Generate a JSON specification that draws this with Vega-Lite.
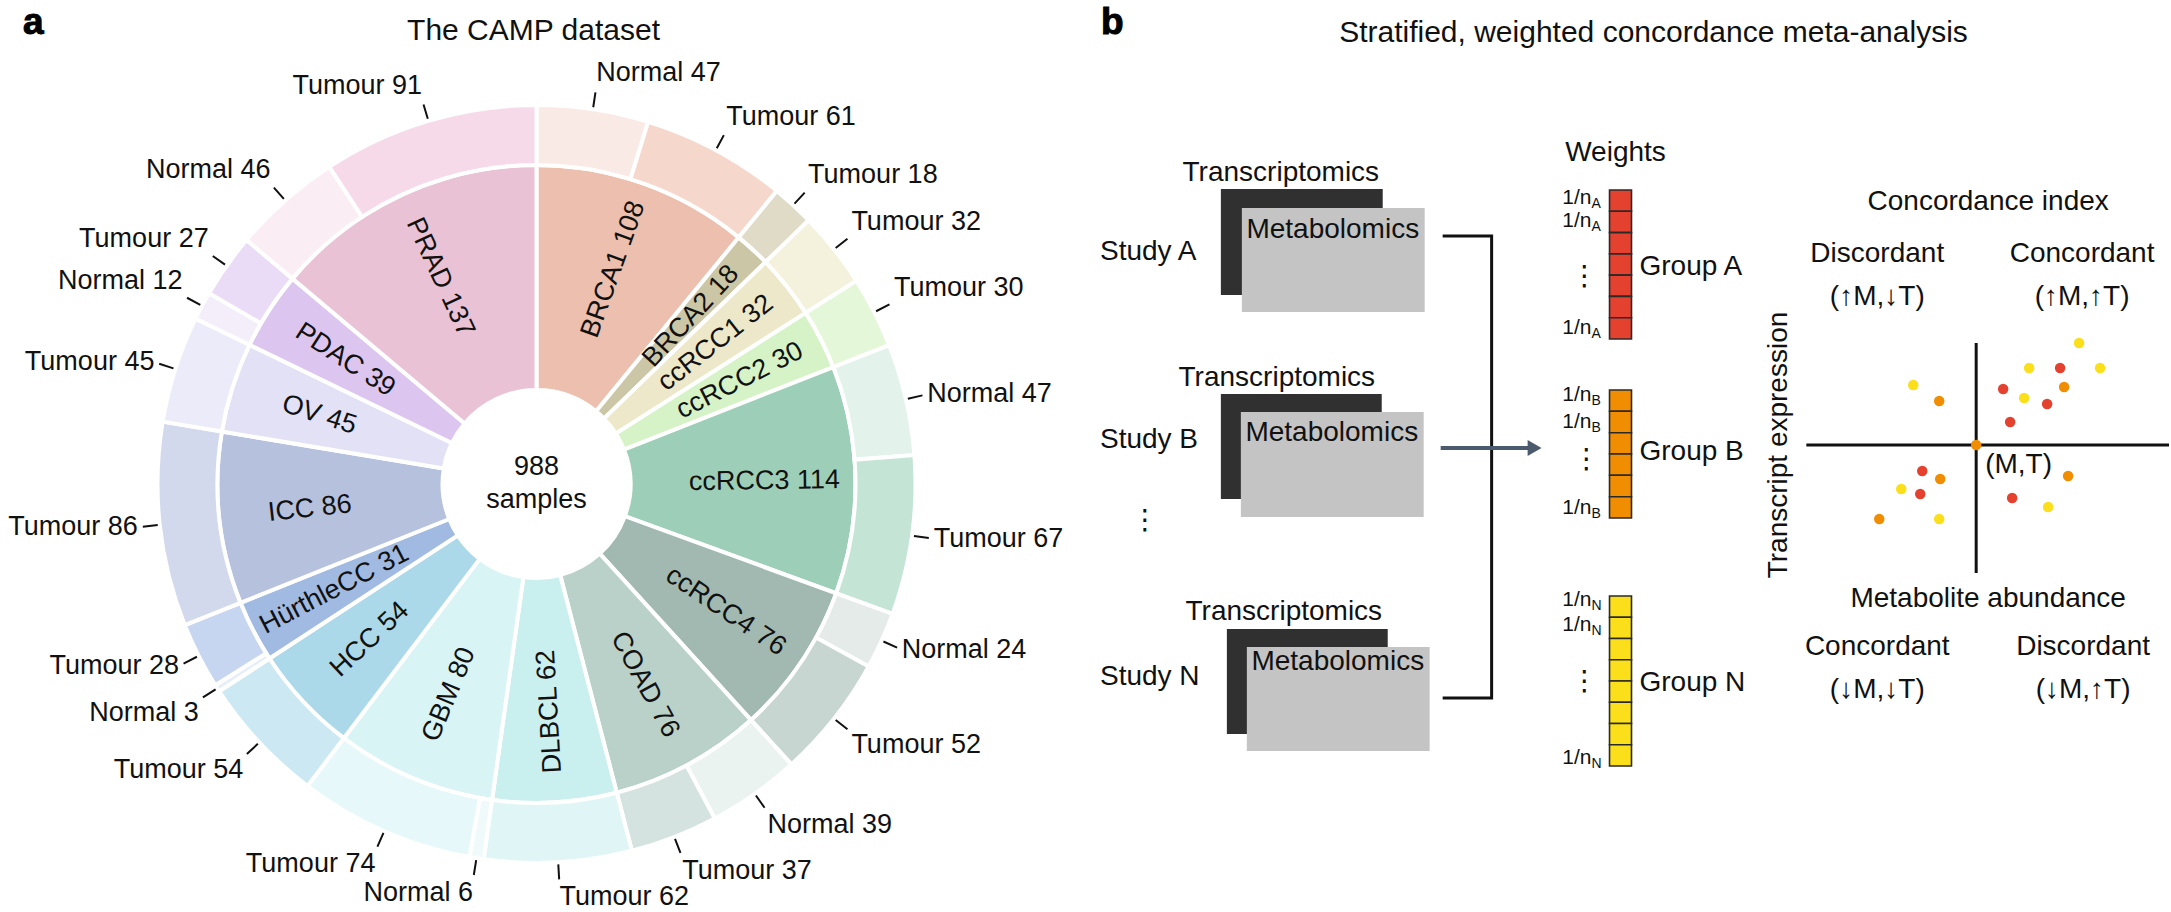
{
"$schema": "https://vega.github.io/schema/vega-lite/v6.json",
"width": 2171, "height": 912,
"autosize": {"type": "fit", "contains": "padding"},
"padding": 0,
"background": "white",
"config": {"view": {"stroke": null}, "font": "Liberation Sans", "text": {"color": "#111111", "font": "Liberation Sans"}},
"datasets": {
 "inner": [
  {"i": 1, "seg": "BRCA1", "n": 108, "label": "BRCA1 108"},
  {"i": 2, "seg": "BRCA2", "n": 18, "label": "BRCA2 18"},
  {"i": 3, "seg": "ccRCC1", "n": 32, "label": "ccRCC1 32"},
  {"i": 4, "seg": "ccRCC2", "n": 30, "label": "ccRCC2 30"},
  {"i": 5, "seg": "ccRCC3", "n": 114, "label": "ccRCC3 114"},
  {"i": 6, "seg": "ccRCC4", "n": 76, "label": "ccRCC4 76"},
  {"i": 7, "seg": "COAD", "n": 76, "label": "COAD 76"},
  {"i": 8, "seg": "DLBCL", "n": 62, "label": "DLBCL 62"},
  {"i": 9, "seg": "GBM", "n": 80, "label": "GBM 80"},
  {"i": 10, "seg": "HCC", "n": 54, "label": "HCC 54"},
  {"i": 11, "seg": "HürthleCC", "n": 31, "label": "HürthleCC 31"},
  {"i": 12, "seg": "ICC", "n": 86, "label": "ICC 86"},
  {"i": 13, "seg": "OV", "n": 45, "label": "OV 45"},
  {"i": 14, "seg": "PDAC", "n": 39, "label": "PDAC 39"},
  {"i": 15, "seg": "PRAD", "n": 137, "label": "PRAD 137"}
 ],
 "outer": [
  {"i": 1, "seg": "BRCA1 Normal", "n": 47, "label": "Normal 47"},
  {"i": 2, "seg": "BRCA1 Tumour", "n": 61, "label": "Tumour 61"},
  {"i": 3, "seg": "BRCA2 Tumour", "n": 18, "label": "Tumour 18"},
  {"i": 4, "seg": "ccRCC1 Tumour", "n": 32, "label": "Tumour 32"},
  {"i": 5, "seg": "ccRCC2 Tumour", "n": 30, "label": "Tumour 30"},
  {"i": 6, "seg": "ccRCC3 Normal", "n": 47, "label": "Normal 47"},
  {"i": 7, "seg": "ccRCC3 Tumour", "n": 67, "label": "Tumour 67"},
  {"i": 8, "seg": "ccRCC4 Normal", "n": 24, "label": "Normal 24"},
  {"i": 9, "seg": "ccRCC4 Tumour", "n": 52, "label": "Tumour 52"},
  {"i": 10, "seg": "COAD Normal", "n": 39, "label": "Normal 39"},
  {"i": 11, "seg": "COAD Tumour", "n": 37, "label": "Tumour 37"},
  {"i": 12, "seg": "DLBCL Tumour", "n": 62, "label": "Tumour 62"},
  {"i": 13, "seg": "GBM Normal", "n": 6, "label": "Normal 6"},
  {"i": 14, "seg": "GBM Tumour", "n": 74, "label": "Tumour 74"},
  {"i": 15, "seg": "HCC Tumour", "n": 54, "label": "Tumour 54"},
  {"i": 16, "seg": "HürthleCC Normal", "n": 3, "label": "Normal 3"},
  {"i": 17, "seg": "HürthleCC Tumour", "n": 28, "label": "Tumour 28"},
  {"i": 18, "seg": "ICC Tumour", "n": 86, "label": "Tumour 86"},
  {"i": 19, "seg": "OV Tumour", "n": 45, "label": "Tumour 45"},
  {"i": 20, "seg": "PDAC Normal", "n": 12, "label": "Normal 12"},
  {"i": 21, "seg": "PDAC Tumour", "n": 27, "label": "Tumour 27"},
  {"i": 22, "seg": "PRAD Normal", "n": 46, "label": "Normal 46"},
  {"i": 23, "seg": "PRAD Tumour", "n": 91, "label": "Tumour 91"}
 ],
 "darkbox": [{"x": 1222, "x2": 1384, "y": 189, "y2": 295}, {"x": 1222, "x2": 1383, "y": 394, "y2": 499}, {"x": 1228, "x2": 1389, "y": 629, "y2": 734}],
 "greybox": [{"x": 1243, "x2": 1426, "y": 208, "y2": 312}, {"x": 1242, "x2": 1425, "y": 412, "y2": 517}, {"x": 1248, "x2": 1431, "y": 647, "y2": 751}],
 "connector": [{"k": 1, "x": 1444, "y": 236}, {"k": 2, "x": 1493, "y": 236}, {"k": 3, "x": 1493, "y": 698}, {"k": 4, "x": 1444, "y": 698}],
 "axes": [{"x": 1978, "x2": 1978, "y": 343, "y2": 573}, {"x": 1808, "x2": 2171, "y": 445, "y2": 445}],
 "arrow": [{"x": 1442, "x2": 1530, "y": 448, "y2": 448}],
 "arrowhead": [{"x": 1536, "y": 448}],
 "cells": [
  {"g": "A", "x": 1611, "x2": 1633, "y": 190, "y2": 211.3},
  {"g": "A", "x": 1611, "x2": 1633, "y": 211.3, "y2": 232.6},
  {"g": "A", "x": 1611, "x2": 1633, "y": 232.6, "y2": 253.9},
  {"g": "A", "x": 1611, "x2": 1633, "y": 253.9, "y2": 275.1},
  {"g": "A", "x": 1611, "x2": 1633, "y": 275.1, "y2": 296.4},
  {"g": "A", "x": 1611, "x2": 1633, "y": 296.4, "y2": 317.7},
  {"g": "A", "x": 1611, "x2": 1633, "y": 317.7, "y2": 339},
  {"g": "B", "x": 1611, "x2": 1633, "y": 390, "y2": 411.3},
  {"g": "B", "x": 1611, "x2": 1633, "y": 411.3, "y2": 432.7},
  {"g": "B", "x": 1611, "x2": 1633, "y": 432.7, "y2": 454},
  {"g": "B", "x": 1611, "x2": 1633, "y": 454, "y2": 475.3},
  {"g": "B", "x": 1611, "x2": 1633, "y": 475.3, "y2": 496.7},
  {"g": "B", "x": 1611, "x2": 1633, "y": 496.7, "y2": 518},
  {"g": "N", "x": 1611, "x2": 1633, "y": 596, "y2": 617.3},
  {"g": "N", "x": 1611, "x2": 1633, "y": 617.3, "y2": 638.5},
  {"g": "N", "x": 1611, "x2": 1633, "y": 638.5, "y2": 659.8},
  {"g": "N", "x": 1611, "x2": 1633, "y": 659.8, "y2": 681},
  {"g": "N", "x": 1611, "x2": 1633, "y": 681, "y2": 702.3},
  {"g": "N", "x": 1611, "x2": 1633, "y": 702.3, "y2": 723.5},
  {"g": "N", "x": 1611, "x2": 1633, "y": 723.5, "y2": 744.8},
  {"g": "N", "x": 1611, "x2": 1633, "y": 744.8, "y2": 766}
 ],
 "dots": [
  {"x": 1915, "y": 385, "g": "N"}, {"x": 1941, "y": 401, "g": "B"},
  {"x": 2081, "y": 343, "g": "N"}, {"x": 2031, "y": 368, "g": "N"},
  {"x": 2062, "y": 368, "g": "A"}, {"x": 2102, "y": 368, "g": "N"},
  {"x": 2005, "y": 389, "g": "A"}, {"x": 2066, "y": 387, "g": "B"},
  {"x": 2026, "y": 398, "g": "N"}, {"x": 2049, "y": 404, "g": "A"},
  {"x": 2012, "y": 422, "g": "A"}, {"x": 1978, "y": 445, "g": "B"},
  {"x": 1924, "y": 471, "g": "A"}, {"x": 1942, "y": 479, "g": "B"},
  {"x": 1903, "y": 489, "g": "N"}, {"x": 1922, "y": 494, "g": "A"},
  {"x": 1881, "y": 519, "g": "B"}, {"x": 1941, "y": 519, "g": "N"},
  {"x": 2070, "y": 476, "g": "B"}, {"x": 2014, "y": 498, "g": "A"},
  {"x": 2050, "y": 507, "g": "N"}
 ],
 "wlabels": [
  {"x": 1593, "y": 198, "sub": "A"}, {"x": 1593, "y": 221, "sub": "A"}, {"x": 1593, "y": 328, "sub": "A"},
  {"x": 1593, "y": 395, "sub": "B"}, {"x": 1593, "y": 422, "sub": "B"}, {"x": 1593, "y": 508, "sub": "B"},
  {"x": 1593, "y": 600, "sub": "N"}, {"x": 1593, "y": 625, "sub": "N"}, {"x": 1593, "y": 758, "sub": "N"}
 ],
 "atext": [{"x": 537, "y": 467, "t": "988"}, {"x": 537, "y": 500, "t": "samples"}],
 "ctext": [
  {"x": 1282, "y": 173, "t": "Transcriptomics"}, {"x": 1278, "y": 378, "t": "Transcriptomics"}, {"x": 1285, "y": 612, "t": "Transcriptomics"},
  {"x": 1334, "y": 230, "t": "Metabolomics"}, {"x": 1333, "y": 433, "t": "Metabolomics"}, {"x": 1339, "y": 662, "t": "Metabolomics"},
  {"x": 1617, "y": 153, "t": "Weights"},
  {"x": 1990, "y": 202, "t": "Concordance index"},
  {"x": 1879, "y": 254, "t": "Discordant"}, {"x": 1879, "y": 297, "t": "(↑M,↓T)"},
  {"x": 2084, "y": 254, "t": "Concordant"}, {"x": 2084, "y": 297, "t": "(↑M,↑T)"},
  {"x": 1990, "y": 599, "t": "Metabolite abundance"},
  {"x": 1879, "y": 647, "t": "Concordant"}, {"x": 1879, "y": 690, "t": "(↓M,↓T)"},
  {"x": 2085, "y": 647, "t": "Discordant"}, {"x": 2085, "y": 690, "t": "(↓M,↑T)"}
 ],
 "ltext": [
  {"x": 1101, "y": 252, "t": "Study A"}, {"x": 1101, "y": 440, "t": "Study B"}, {"x": 1101, "y": 677, "t": "Study N"},
  {"x": 1641, "y": 267, "t": "Group A"}, {"x": 1641, "y": 452, "t": "Group B"}, {"x": 1641, "y": 683, "t": "Group N"},
  {"x": 1987, "y": 465, "t": "(M,T)"}
 ],
 "titles": [{"x": 534, "y": 31, "t": "The CAMP dataset"}, {"x": 1655, "y": 33, "t": "Stratified, weighted concordance meta-analysis"}],
 "letters": [{"x": 23, "y": 34, "t": "a"}, {"x": 1102, "y": 34, "t": "b"}],
 "vdots": [{"x": 1146, "y": 521}, {"x": 1586, "y": 277}, {"x": 1588, "y": 460}, {"x": 1586, "y": 682}],
 "rottext": [{"x": 1781, "y": 445, "t": "Transcript expression"}]
},
"layer": [
 {
  "data": {"name": "inner"},
  "mark": {"type": "arc", "innerRadius": 94, "outerRadius": 319, "stroke": "white", "strokeWidth": 4},
  "encoding": {
   "x": {"datum": 537, "type": "quantitative", "scale": {"domain": [0, 2171], "nice": false, "zero": false}, "axis": null},
   "y": {"datum": 484, "type": "quantitative", "scale": {"domain": [0, 912], "nice": false, "zero": false, "reverse": true}, "axis": null},
   "theta": {"field": "n", "type": "quantitative", "stack": true, "scale": {"domain": [0, 988], "range": [0, 6.283185307179586]}},
   "order": {"field": "i", "type": "quantitative"},
   "color": {"field": "seg", "type": "nominal", "legend": null, "scale": {
     "domain": ["BRCA1","BRCA2","ccRCC1","ccRCC2","ccRCC3","ccRCC4","COAD","DLBCL","GBM","HCC","HürthleCC","ICC","OV","PDAC","PRAD",
      "BRCA1 Normal","BRCA1 Tumour","BRCA2 Tumour","ccRCC1 Tumour","ccRCC2 Tumour","ccRCC3 Normal","ccRCC3 Tumour","ccRCC4 Normal","ccRCC4 Tumour","COAD Normal","COAD Tumour","DLBCL Tumour","GBM Normal","GBM Tumour","HCC Tumour","HürthleCC Normal","HürthleCC Tumour","ICC Tumour","OV Tumour","PDAC Normal","PDAC Tumour","PRAD Normal","PRAD Tumour"],
     "range": ["#ECBFAE","#CBC6A6","#EDE8C9","#D5F3C6","#9DCFB8","#A2B9B2","#B9D1C9","#C9EFEF","#D8F4F5","#ABD9E9","#A1BAE2","#B6C1DD","#E2E1F5","#DCC6EF","#E9C3D5",
      "#FAEAE5","#F6D7CC","#DFDBC7","#F4F2DD","#E4F8D9","#E3F3EB","#C4E5D5","#E4EBE8","#C8D6D1","#EAF3F0","#D4E3DF","#E0F6F6","#F0FAFB","#E6F8F9","#CCE9F3","#E6EEF9","#C6D5F0","#D3D9EC","#ECEBF9","#F4EEFB","#EADBF6","#FBEDF4","#F7DAE9"]}}
  }
 },
 {
  "data": {"name": "outer"},
  "mark": {"type": "arc", "innerRadius": 319, "outerRadius": 379, "stroke": "white", "strokeWidth": 4},
  "encoding": {
   "x": {"datum": 537, "type": "quantitative", "scale": {"domain": [0, 2171], "nice": false, "zero": false}, "axis": null},
   "y": {"datum": 484, "type": "quantitative", "scale": {"domain": [0, 912], "nice": false, "zero": false, "reverse": true}, "axis": null},
   "theta": {"field": "n", "type": "quantitative", "stack": true, "scale": {"domain": [0, 988], "range": [0, 6.283185307179586]}},
   "order": {"field": "i", "type": "quantitative"},
   "color": {"field": "seg", "type": "nominal", "legend": null, "scale": {
     "domain": ["BRCA1","BRCA2","ccRCC1","ccRCC2","ccRCC3","ccRCC4","COAD","DLBCL","GBM","HCC","HürthleCC","ICC","OV","PDAC","PRAD",
      "BRCA1 Normal","BRCA1 Tumour","BRCA2 Tumour","ccRCC1 Tumour","ccRCC2 Tumour","ccRCC3 Normal","ccRCC3 Tumour","ccRCC4 Normal","ccRCC4 Tumour","COAD Normal","COAD Tumour","DLBCL Tumour","GBM Normal","GBM Tumour","HCC Tumour","HürthleCC Normal","HürthleCC Tumour","ICC Tumour","OV Tumour","PDAC Normal","PDAC Tumour","PRAD Normal","PRAD Tumour"],
     "range": ["#ECBFAE","#CBC6A6","#EDE8C9","#D5F3C6","#9DCFB8","#A2B9B2","#B9D1C9","#C9EFEF","#D8F4F5","#ABD9E9","#A1BAE2","#B6C1DD","#E2E1F5","#DCC6EF","#E9C3D5",
      "#FAEAE5","#F6D7CC","#DFDBC7","#F4F2DD","#E4F8D9","#E3F3EB","#C4E5D5","#E4EBE8","#C8D6D1","#EAF3F0","#D4E3DF","#E0F6F6","#F0FAFB","#E6F8F9","#CCE9F3","#E6EEF9","#C6D5F0","#D3D9EC","#ECEBF9","#F4EEFB","#EADBF6","#FBEDF4","#F7DAE9"]}}
  }
 },
 {
  "data": {"name": "inner"},
  "transform": [
   {"stack": "n", "groupby": [], "sort": [{"field": "i", "order": "ascending"}], "as": ["s0", "s1"]},
   {"fold": ["s0", "s1"], "as": ["k", "v"]},
   {"aggregate": [{"op": "mean", "field": "v", "as": "mid"}], "groupby": ["i", "label"]}
  ],
  "mark": {"type": "text", "radius": 228, "fontSize": 27, "align": "center", "baseline": "middle"},
  "encoding": {
   "x": {"datum": 537, "type": "quantitative", "scale": {"domain": [0, 2171], "nice": false, "zero": false}, "axis": null},
   "y": {"datum": 484, "type": "quantitative", "scale": {"domain": [0, 912], "nice": false, "zero": false, "reverse": true}, "axis": null},
   "theta": {"field": "mid", "type": "quantitative", "stack": null, "scale": {"domain": [0, 988], "range": [0, 6.283185307179586]}},
   "angle": {"field": "mid", "type": "quantitative", "legend": null, "scale": {"domain": [0, 466, 466.01, 988], "range": [-90, 79.8, -100.2, 90]}},
   "text": {"field": "label"}
  }
 },
 {
  "data": {"name": "outer"},
  "transform": [
   {"stack": "n", "groupby": [], "sort": [{"field": "i", "order": "ascending"}], "as": ["s0", "s1"]},
   {"fold": ["s0", "s1"], "as": ["k", "v"]},
   {"aggregate": [{"op": "mean", "field": "v", "as": "mid"}], "groupby": ["i", "label"]}
  ],
  "encoding": {
   "x": {"datum": 537, "type": "quantitative", "scale": {"domain": [0, 2171], "nice": false, "zero": false}, "axis": null},
   "y": {"datum": 484, "type": "quantitative", "scale": {"domain": [0, 912], "nice": false, "zero": false, "reverse": true}, "axis": null},
   "theta": {"field": "mid", "type": "quantitative", "stack": null, "scale": {"domain": [0, 988], "range": [0, 6.283185307179586]}}
  },
  "layer": [
   {"mark": {"type": "arc", "innerRadius": 381, "outerRadius": 396, "filled": false, "stroke": "#111111", "strokeWidth": 2},
    "encoding": {"theta2": {"field": "mid"}}},
   {"transform": [{"filter": "datum.mid < 192"}],
    "mark": {"type": "text", "radius": 401, "fontSize": 27, "align": "left", "baseline": "bottom"},
    "encoding": {"text": {"field": "label"}}},
   {"transform": [{"filter": "datum.mid >= 192 && datum.mid < 329"}],
    "mark": {"type": "text", "radius": 401, "fontSize": 27, "align": "left", "baseline": "middle"},
    "encoding": {"text": {"field": "label"}}},
   {"transform": [{"filter": "datum.mid >= 329 && datum.mid < 494"}],
    "mark": {"type": "text", "radius": 401, "fontSize": 27, "align": "left", "baseline": "top"},
    "encoding": {"text": {"field": "label"}}},
   {"transform": [{"filter": "datum.mid >= 494 && datum.mid < 659"}],
    "mark": {"type": "text", "radius": 401, "fontSize": 27, "align": "right", "baseline": "top"},
    "encoding": {"text": {"field": "label"}}},
   {"transform": [{"filter": "datum.mid >= 659 && datum.mid < 796"}],
    "mark": {"type": "text", "radius": 401, "fontSize": 27, "align": "right", "baseline": "middle"},
    "encoding": {"text": {"field": "label"}}},
   {"transform": [{"filter": "datum.mid >= 796"}],
    "mark": {"type": "text", "radius": 401, "fontSize": 27, "align": "right", "baseline": "bottom"},
    "encoding": {"text": {"field": "label"}}}
  ]
 },
 {"data": {"name": "atext"}, "mark": {"type": "text", "fontSize": 27, "align": "center", "baseline": "middle"},
  "encoding": {"x": {"field": "x", "type": "quantitative", "scale": {"domain": [0, 2171], "nice": false, "zero": false}, "axis": null}, "y": {"field": "y", "type": "quantitative", "scale": {"domain": [0, 912], "nice": false, "zero": false, "reverse": true}, "axis": null}, "text": {"field": "t"}}},
 {"data": {"name": "titles"}, "mark": {"type": "text", "fontSize": 30, "align": "center", "baseline": "middle"},
  "encoding": {"x": {"field": "x", "type": "quantitative", "scale": {"domain": [0, 2171], "nice": false, "zero": false}, "axis": null}, "y": {"field": "y", "type": "quantitative", "scale": {"domain": [0, 912], "nice": false, "zero": false, "reverse": true}, "axis": null}, "text": {"field": "t"}}},
 {"data": {"name": "letters"}, "mark": {"type": "text", "fontSize": 37, "fontWeight": "bold", "align": "left", "baseline": "alphabetic", "color": "#000000", "stroke": "#000000", "strokeWidth": 1},
  "encoding": {"x": {"field": "x", "type": "quantitative", "scale": {"domain": [0, 2171], "nice": false, "zero": false}, "axis": null}, "y": {"field": "y", "type": "quantitative", "scale": {"domain": [0, 912], "nice": false, "zero": false, "reverse": true}, "axis": null}, "text": {"field": "t"}}},
 {"data": {"name": "darkbox"}, "mark": {"type": "rect", "color": "#303030"},
  "encoding": {"x": {"field": "x", "type": "quantitative", "scale": {"domain": [0, 2171], "nice": false, "zero": false}, "axis": null}, "y": {"field": "y", "type": "quantitative", "scale": {"domain": [0, 912], "nice": false, "zero": false, "reverse": true}, "axis": null}, "x2": {"field": "x2"}, "y2": {"field": "y2"}}},
 {"data": {"name": "greybox"}, "mark": {"type": "rect", "color": "#C4C4C4"},
  "encoding": {"x": {"field": "x", "type": "quantitative", "scale": {"domain": [0, 2171], "nice": false, "zero": false}, "axis": null}, "y": {"field": "y", "type": "quantitative", "scale": {"domain": [0, 912], "nice": false, "zero": false, "reverse": true}, "axis": null}, "x2": {"field": "x2"}, "y2": {"field": "y2"}}},
 {"data": {"name": "ctext"}, "mark": {"type": "text", "fontSize": 28, "align": "center", "baseline": "middle"},
  "encoding": {"x": {"field": "x", "type": "quantitative", "scale": {"domain": [0, 2171], "nice": false, "zero": false}, "axis": null}, "y": {"field": "y", "type": "quantitative", "scale": {"domain": [0, 912], "nice": false, "zero": false, "reverse": true}, "axis": null}, "text": {"field": "t"}}},
 {"data": {"name": "ltext"}, "mark": {"type": "text", "fontSize": 28, "align": "left", "baseline": "middle"},
  "encoding": {"x": {"field": "x", "type": "quantitative", "scale": {"domain": [0, 2171], "nice": false, "zero": false}, "axis": null}, "y": {"field": "y", "type": "quantitative", "scale": {"domain": [0, 912], "nice": false, "zero": false, "reverse": true}, "axis": null}, "text": {"field": "t"}}},
 {"data": {"name": "connector"}, "mark": {"type": "line", "color": "#111111", "strokeWidth": 3},
  "encoding": {"x": {"field": "x", "type": "quantitative", "scale": {"domain": [0, 2171], "nice": false, "zero": false}, "axis": null}, "y": {"field": "y", "type": "quantitative", "scale": {"domain": [0, 912], "nice": false, "zero": false, "reverse": true}, "axis": null}, "order": {"field": "k", "type": "quantitative"}}},
 {"data": {"name": "arrow"}, "mark": {"type": "rule", "color": "#4B5A6D", "strokeWidth": 4},
  "encoding": {"x": {"field": "x", "type": "quantitative", "scale": {"domain": [0, 2171], "nice": false, "zero": false}, "axis": null}, "y": {"field": "y", "type": "quantitative", "scale": {"domain": [0, 912], "nice": false, "zero": false, "reverse": true}, "axis": null}, "x2": {"field": "x2"}, "y2": {"field": "y2"}}},
 {"data": {"name": "arrowhead"}, "mark": {"type": "point", "shape": "triangle-right", "filled": true, "size": 260, "color": "#4B5A6D", "opacity": 1},
  "encoding": {"x": {"field": "x", "type": "quantitative", "scale": {"domain": [0, 2171], "nice": false, "zero": false}, "axis": null}, "y": {"field": "y", "type": "quantitative", "scale": {"domain": [0, 912], "nice": false, "zero": false, "reverse": true}, "axis": null}}},
 {"data": {"name": "cells"}, "mark": {"type": "rect", "stroke": "#2A2A2A", "strokeWidth": 1.6},
  "encoding": {"x": {"field": "x", "type": "quantitative", "scale": {"domain": [0, 2171], "nice": false, "zero": false}, "axis": null}, "y": {"field": "y", "type": "quantitative", "scale": {"domain": [0, 912], "nice": false, "zero": false, "reverse": true}, "axis": null}, "x2": {"field": "x2"}, "y2": {"field": "y2"},
   "fill": {"field": "g", "type": "nominal", "legend": null, "scale": {"domain": ["A", "B", "N"], "range": ["#E4412F", "#F18D00", "#FADF1A"]}}}},
 {"data": {"name": "wlabels"}, "mark": {"type": "text", "text": "1/n", "fontSize": 21, "align": "right", "baseline": "middle"},
  "encoding": {"x": {"field": "x", "type": "quantitative", "scale": {"domain": [0, 2171], "nice": false, "zero": false}, "axis": null}, "y": {"field": "y", "type": "quantitative", "scale": {"domain": [0, 912], "nice": false, "zero": false, "reverse": true}, "axis": null}}},
 {"data": {"name": "wlabels"}, "mark": {"type": "text", "fontSize": 14, "align": "left", "baseline": "middle", "dx": 0, "dy": 6},
  "encoding": {"x": {"field": "x", "type": "quantitative", "scale": {"domain": [0, 2171], "nice": false, "zero": false}, "axis": null}, "y": {"field": "y", "type": "quantitative", "scale": {"domain": [0, 912], "nice": false, "zero": false, "reverse": true}, "axis": null}, "text": {"field": "sub"}}},
 {"data": {"name": "vdots"}, "mark": {"type": "text", "text": "⋮", "fontSize": 28, "align": "center", "baseline": "middle", "font": "DejaVu Sans"},
  "encoding": {"x": {"field": "x", "type": "quantitative", "scale": {"domain": [0, 2171], "nice": false, "zero": false}, "axis": null}, "y": {"field": "y", "type": "quantitative", "scale": {"domain": [0, 912], "nice": false, "zero": false, "reverse": true}, "axis": null}}},
 {"data": {"name": "axes"}, "mark": {"type": "rule", "color": "#111111", "strokeWidth": 3},
  "encoding": {"x": {"field": "x", "type": "quantitative", "scale": {"domain": [0, 2171], "nice": false, "zero": false}, "axis": null}, "y": {"field": "y", "type": "quantitative", "scale": {"domain": [0, 912], "nice": false, "zero": false, "reverse": true}, "axis": null}, "x2": {"field": "x2"}, "y2": {"field": "y2"}}},
 {"data": {"name": "dots"}, "mark": {"type": "circle", "size": 110, "opacity": 1},
  "encoding": {"x": {"field": "x", "type": "quantitative", "scale": {"domain": [0, 2171], "nice": false, "zero": false}, "axis": null}, "y": {"field": "y", "type": "quantitative", "scale": {"domain": [0, 912], "nice": false, "zero": false, "reverse": true}, "axis": null},
   "fill": {"field": "g", "type": "nominal", "legend": null, "scale": {"domain": ["A", "B", "N"], "range": ["#E0301F", "#F18D00", "#FADF1A"]}}}},
 {"data": {"name": "rottext"}, "mark": {"type": "text", "fontSize": 28, "angle": 270, "align": "center", "baseline": "middle"},
  "encoding": {"x": {"field": "x", "type": "quantitative", "scale": {"domain": [0, 2171], "nice": false, "zero": false}, "axis": null}, "y": {"field": "y", "type": "quantitative", "scale": {"domain": [0, 912], "nice": false, "zero": false, "reverse": true}, "axis": null}, "text": {"field": "t"}}}
]
}
